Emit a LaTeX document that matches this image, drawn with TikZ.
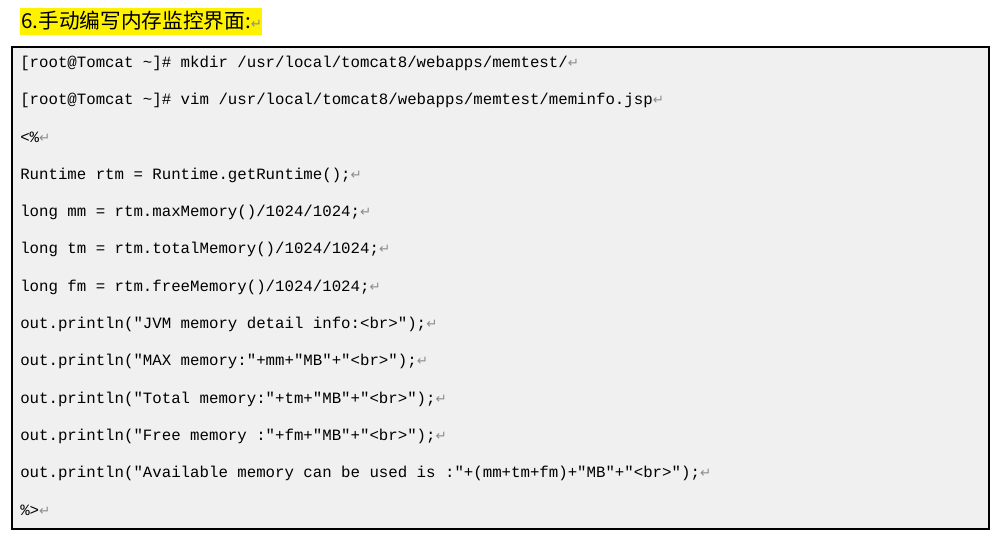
\documentclass[tikz,border=0pt]{standalone}
\usepackage{fontspec}
\setmonofont{Liberation Mono}
\newfontfamily\cjk{Noto Sans CJK SC}
\newfontfamily\symb{DejaVu Sans}
\tikzset{
  codeline/.style={anchor=west, inner sep=0pt, font=\ttfamily\fontsize{11.8}{14}\selectfont}
}
\newcommand{\ret}{{\symb\color{black!45}\fontsize{10}{11}\selectfont ↵}}
\begin{document}
\begin{tikzpicture}[x=0.75pt,y=-0.75pt]
\useasboundingbox (0,0) rectangle (1002,535);
% heading
\fill[yellow] (20,8) rectangle (262,35);
\node[anchor=west, inner sep=0pt, font=\cjk\fontsize{15.5}{18}\selectfont] (title) at (21,21) {6.手动编写内存监控界面:\ret};
% code box
\draw[fill=black!6, line width=0.9pt] (12,47) rectangle (989,529);
\node[codeline] (l1) at (20,63) {[root@Tomcat \textasciitilde]\# mkdir /usr/local/tomcat8/webapps/memtest/\ret};
\node[codeline] (l2) at (20,100) {[root@Tomcat \textasciitilde]\# vim /usr/local/tomcat8/webapps/memtest/meminfo.jsp\ret};
\node[codeline] (l3) at (20,137) {<\%\ret};
\node[codeline] (l4) at (20,175) {Runtime rtm = Runtime.getRuntime();\ret};
\node[codeline] (l5) at (20,212) {long mm = rtm.maxMemory()/1024/1024;\ret};
\node[codeline] (l6) at (20,249) {long tm = rtm.totalMemory()/1024/1024;\ret};
\node[codeline] (l7) at (20,287) {long fm = rtm.freeMemory()/1024/1024;\ret};
\node[codeline] (l8) at (20,324) {out.println("JVM memory detail info:<br>");\ret};
\node[codeline] (l9) at (20,361) {out.println("MAX memory:"+mm+"MB"+"<br>");\ret};
\node[codeline] (l10) at (20,399) {out.println("Total memory:"+tm+"MB"+"<br>");\ret};
\node[codeline] (l11) at (20,436) {out.println("Free memory :"+fm+"MB"+"<br>");\ret};
\node[codeline] (l12) at (20,473) {out.println("Available memory can be used is :"+(mm+tm+fm)+"MB"+"<br>");\ret};
\node[codeline] (l13) at (20,510) {\%>\ret};
\end{tikzpicture}
\end{document}
